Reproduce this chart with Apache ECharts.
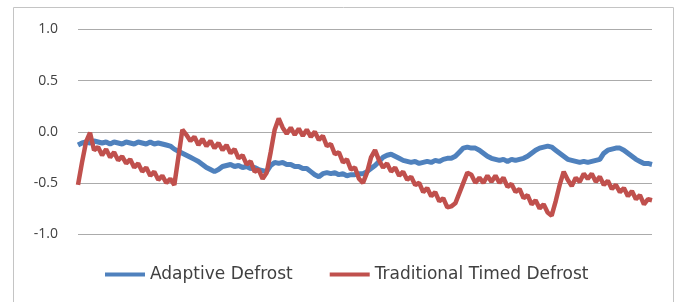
<!DOCTYPE html>
<html>
<head>
<meta charset="utf-8">
<script src="https://cdn.jsdelivr.net/npm/echarts@6/dist/echarts.min.js"></script>
<style>
  html, body { margin: 0; padding: 0; background: #fff; }
  #chart { width: 681px; height: 302px; }
</style>
</head>
<body>
<div id="chart"></div>
<script>
// values, one sample every ~4px along the x axis
const adaptive = [
  -0.13, -0.11, -0.10, -0.11, -0.09, -0.10, -0.11, -0.10, -0.12, -0.10,
  -0.11, -0.12, -0.10, -0.11, -0.12, -0.10, -0.11, -0.12, -0.10, -0.12,
  -0.11, -0.12, -0.13, -0.14, -0.17, -0.19, -0.21, -0.23, -0.25, -0.27,
  -0.29, -0.32, -0.35, -0.37, -0.39, -0.37, -0.34, -0.33, -0.32, -0.34,
  -0.33, -0.35, -0.34, -0.36, -0.35, -0.37, -0.38, -0.39, -0.33, -0.30,
  -0.31, -0.30, -0.32, -0.32, -0.34, -0.34, -0.36, -0.36, -0.39, -0.42,
  -0.44, -0.41, -0.40, -0.41, -0.40, -0.42, -0.41, -0.43, -0.42, -0.42,
  -0.41, -0.41, -0.39, -0.36, -0.33, -0.29, -0.25, -0.23, -0.22, -0.24,
  -0.26, -0.28, -0.29, -0.30, -0.29, -0.31, -0.30, -0.29, -0.30, -0.28,
  -0.29, -0.27, -0.26, -0.26, -0.24, -0.20, -0.16, -0.15, -0.16, -0.16,
  -0.18, -0.21, -0.24, -0.26, -0.27, -0.28, -0.27, -0.29, -0.27, -0.28,
  -0.27, -0.26, -0.24, -0.21, -0.18, -0.16, -0.15, -0.14, -0.15, -0.18,
  -0.21, -0.24, -0.27, -0.28, -0.29, -0.30, -0.29, -0.30, -0.29, -0.28,
  -0.27, -0.21, -0.18, -0.17, -0.16, -0.16, -0.18, -0.21, -0.24, -0.27,
  -0.29, -0.31, -0.31, -0.32
];
const traditional = [
  -0.52, -0.30, -0.10, -0.01, -0.18, -0.15, -0.23, -0.17, -0.25, -0.20,
  -0.28, -0.24, -0.31, -0.27, -0.35, -0.31, -0.39, -0.35, -0.43, -0.39,
  -0.47, -0.43, -0.50, -0.46, -0.52, -0.25, 0.02, -0.03, -0.09, -0.05,
  -0.13, -0.07, -0.14, -0.09, -0.16, -0.11, -0.18, -0.13, -0.21, -0.17,
  -0.26, -0.23, -0.32, -0.29, -0.39, -0.37, -0.46, -0.40, -0.20, 0.02,
  0.13, 0.04, -0.02, 0.04, -0.03, 0.03, -0.04, 0.02, -0.05, 0.00,
  -0.08, -0.04, -0.14, -0.12, -0.22, -0.20, -0.30, -0.27, -0.37, -0.35,
  -0.46, -0.50, -0.40, -0.25, -0.18, -0.28, -0.35, -0.31, -0.39, -0.35,
  -0.43, -0.39, -0.47, -0.44, -0.52, -0.50, -0.59, -0.55, -0.63, -0.59,
  -0.68, -0.65, -0.74, -0.73, -0.70, -0.60, -0.50, -0.40, -0.42, -0.50,
  -0.45, -0.50, -0.43, -0.49, -0.43, -0.50, -0.45, -0.54, -0.51, -0.59,
  -0.56, -0.65, -0.62, -0.71, -0.67, -0.75, -0.71, -0.79, -0.82, -0.68,
  -0.52, -0.39, -0.47, -0.53, -0.45, -0.49, -0.41, -0.46, -0.41, -0.49,
  -0.44, -0.52, -0.48, -0.56, -0.52, -0.59, -0.55, -0.63, -0.58, -0.66,
  -0.62, -0.71, -0.66, -0.67
];
const samples = adaptive.map((v, i) => i);
const yTicks = [-1.0, -0.5, 0.0, 0.5, 1.0];

const chart = echarts.init(document.getElementById('chart'));

chart.setOption({
  animation: false,
  textStyle: { fontFamily: 'Open Sans' },
  graphic: [{
    type: 'rect',
    shape: { x: 13.5, y: 7.5, width: 660, height: 310 },
    style: { fill: 'none', stroke: '#c4c4c4', lineWidth: 1 },
    silent: true
  }],
  grid: { left: 78, right: 29, top: 29.5, bottom: 68 },
  legend: {
    left: 105,
    top: 266,
    padding: 0,
    icon: 'rect',
    itemWidth: 40,
    itemHeight: 4,
    itemGap: 37,
    textStyle: { fontSize: 17, color: '#404040', fontFamily: 'DejaVu Sans' },
    data: ['Adaptive Defrost', 'Traditional Timed Defrost']
  },
  xAxis: {
    type: 'category',
    data: samples,
    boundaryGap: false,
    axisLine: { show: false },
    axisTick: { show: false },
    axisLabel: { show: false },
    splitLine: { show: false }
  },
  yAxis: {
    type: 'value',
    min: yTicks[0],
    max: yTicks[yTicks.length - 1],
    interval: 0.5,
    axisLine: { show: false },
    axisTick: { show: false },
    axisLabel: {
      margin: 20,
      fontSize: 14,
      color: '#404040',
      formatter: v => v.toFixed(1)
    },
    splitLine: { lineStyle: { color: '#ababab', width: 1 } }
  },
  series: [
    {
      name: 'Adaptive Defrost',
      type: 'line',
      data: adaptive,
      symbol: 'none',
      color: '#4f81bd',
      lineStyle: { width: 5, color: '#4f81bd' }
    },
    {
      name: 'Traditional Timed Defrost',
      type: 'line',
      data: traditional,
      symbol: 'none',
      color: '#c0504d',
      lineStyle: { width: 4.5, color: '#c0504d' }
    }
  ]
});
</script>
</body>
</html>
